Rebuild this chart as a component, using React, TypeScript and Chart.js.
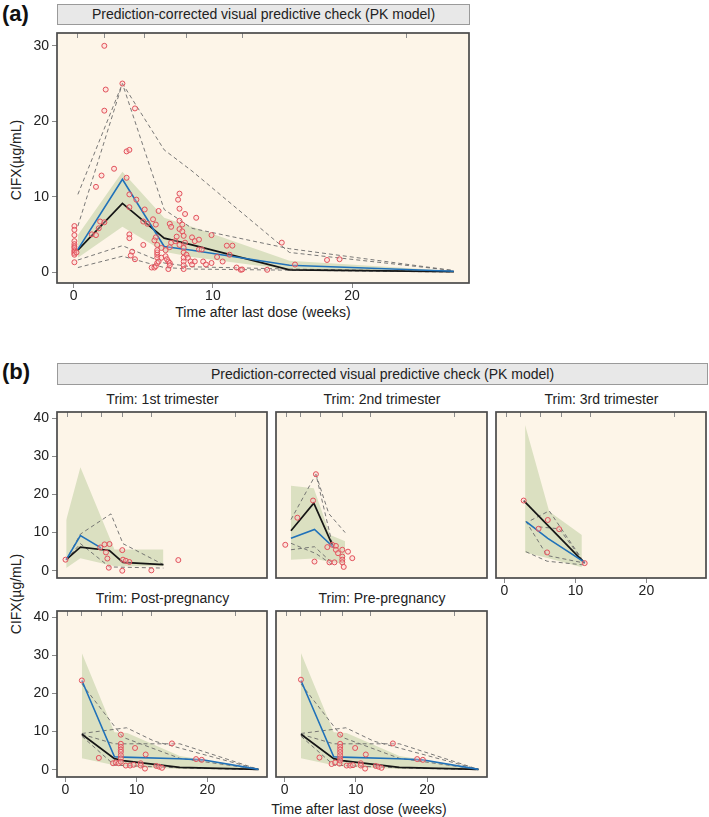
import React, { useEffect, useRef } from "react";
import { Chart, registerables } from "chart.js";
Chart.register(...registerables);

const FONT = "'Liberation Sans', Arial, Helvetica, sans-serif";
const BG = "#fdf5e8";
const BAND = "#dbe0c1";
const BLUE = "#2071b9";
const BLACK = "#151515";
const DASH = "#6a6a6a";
const PT = "#e2525c";
const TICKC = "#8a8a8a";
const FRAME = "#4a4a4a";
const TXT = "#222";

// ---- shared axes ----
const BIN_EDGES = [0.3, 2.2, 5.1, 8.1, 12.1, 23.9];
const X_TICKS = [0, 10, 20];
const Y_TICKS_A = [0, 10, 20, 30];
const Y_TICKS_B = [0, 10, 20, 30, 40];

// ---- panel (a) ----
const A_T = [0.3, 3.5, 6.5, 8.5, 15.5, 27.3];
const A_OBS_MED = [3.0, 12.3, 3.4, 2.9, 0.9, 0.1];
const A_SIM_MED = [2.9, 9.1, 4.5, 3.6, 0.3, 0.05];
const A_BAND_HI = [4.9, 13.3, 7.2, 6.0, 1.5, 0.15];
const A_BAND_LO = [1.9, 6.0, 2.7, 2.0, 0.3, 0.0];
const A_D1 = [10.3, 25.0, 16.2, 13.4, 2.6, 0.2];
const A_D2 = [6.1, 25.0, 8.3, 5.8, 3.1, 0.2];
const A_D3 = [1.6, 3.5, 1.2, 0.7, 0.4, 0.05];
const A_D4 = [0.6, 2.1, 0.6, 0.4, 0.25, 0.0];
const A_OBS_T = [
  0.05, 0.05, 0.05, 0.05, 0.05, 0.05, 0.05, 0.05, 0.05, 0.05, 0.05, 0.05, 0.2,
  2.2, 2.3, 2.2, 3.5, 4.4, 3.8, 4.0, 2.9, 2.0, 1.6, 3.8, 4.0, 4.5, 4.0, 5.1,
  1.9, 2.2, 1.8, 1.3, 1.6, 5.0, 5.3, 5.7, 6.1, 5.9, 4.0, 4.0, 5.0, 4.2, 4.1, 4.4, 5.9, 5.8, 6.0,
  5.6, 5.8, 5.9, 6.0, 6.0, 6.0, 6.0, 6.0, 6.1, 6.3, 6.6, 6.7, 6.8, 6.9, 6.8, 6.9, 6.3,
  7.6, 7.5, 7.6, 8.0, 8.8, 6.9, 7.0, 7.6, 7.8, 7.4, 7.6, 7.8, 7.9, 8.0, 7.9, 7.9, 7.9, 7.9, 7.9, 7.9,
  8.1, 8.2, 8.4, 8.5, 8.5, 8.7, 9.0, 9.0, 9.2, 8.7, 9.3, 9.5, 9.9, 9.9, 10.3, 10.7, 11.0, 11.4, 11.2,
  11.7, 12.0, 12.1, 13.9, 14.95, 15.9, 18.2, 19.1, 6.9, 7.0, 7.3, 6.6, 7.6,
];
const A_OBS_V = [
  6.1, 5.6, 4.9, 4.1, 3.7, 3.4, 3.2, 2.9, 2.7, 2.5, 2.3, 1.3, 2.6,
  30.0, 24.2, 21.4, 25.0, 21.7, 16.0, 16.2, 13.7, 12.8, 11.3, 12.5, 10.3, 9.6, 8.6, 8.3,
  6.7, 6.6, 5.8, 5.0, 4.9, 6.7, 6.4, 7.0, 8.1, 6.3, 5.0, 4.5, 3.6, 2.7, 2.2, 1.7, 4.6, 4.2, 3.6,
  0.6, 0.6, 0.8, 1.2, 1.9, 2.3, 2.6, 2.9, 1.4, 1.9, 2.1, 1.7, 1.4, 1.2, 0.4, 0.9, 3.2,
  10.4, 9.6, 8.4, 7.7, 7.2, 6.4, 6.0, 6.8, 6.3, 4.7, 5.7, 5.4, 4.8, 3.9, 3.2, 2.6, 1.9, 1.4, 0.9, 0.4,
  2.3, 1.9, 1.4, 1.0, 4.6, 4.1, 4.3, 3.0, 3.0, 1.4, 1.4, 1.0, 1.2, 4.9, 2.0, 1.4, 3.5, 3.5, 2.3,
  0.6, 0.3, 0.35, 0.3, 3.9, 1.0, 1.6, 1.7, 3.3, 3.9, 4.1, 2.9, 3.6,
];

// ---- panel b1: 1st trimester ----
const B1_BAND_T = [0.1, 2.1, 6.9, 13.8];
const B1_BAND_HI = [13.3, 27.1, 5.6, 5.6];
const B1_BAND_LO = [0.7, 3.3, 1.2, 1.2];
const B1_OBS_MED_T = [0.1, 2.1, 5.0];
const B1_OBS_MED = [2.9, 9.2, 6.0];
const B1_SIM_MED_T = [0.1, 2.1, 6.2, 8.1, 13.8];
const B1_SIM_MED = [2.9, 6.2, 5.3, 2.2, 1.6];
const B1_D1_T = [0.1, 2.1, 6.4, 8.1, 13.8];
const B1_D1 = [2.9, 9.6, 14.9, 7.1, 1.6];
const B1_D2_T = [0.1, 2.1, 6.2, 13.8];
const B1_D2 = [2.9, 7.1, 1.0, 0.7];
const B1_OBS_T = [0.0, 4.9, 5.5, 6.2, 5.7, 5.9, 6.1, 8.0, 8.1, 8.5, 9.0, 8.0, 12.1, 15.9];
const B1_OBS_V = [2.9, 6.1, 6.9, 7.0, 4.8, 3.2, 0.8, 5.4, 2.9, 2.6, 2.3, 0.0, 0.1, 2.8];

// ---- panel b2: 2nd trimester ----
const B2_BAND_T = [0.9, 4.1, 6.4, 8.5];
const B2_BAND_HI = [22.3, 21.6, 9.4, 7.7];
const B2_BAND_LO = [2.9, 3.2, 2.3, 1.8];
const B2_OBS_MED_T = [0.9, 4.2, 6.9];
const B2_OBS_MED = [8.5, 10.8, 6.1];
const B2_SIM_MED_T = [0.9, 4.1, 6.7];
const B2_SIM_MED = [10.5, 17.7, 6.8];
const B2_D1_T = [0.9, 4.4, 6.7];
const B2_D1 = [13.4, 25.3, 7.0];
const B2_D2_T = [4.4, 6.2, 8.5];
const B2_D2 = [25.3, 15.0, 10.0];
const B2_D3_T = [0.9, 4.4, 6.7];
const B2_D3 = [7.2, 4.5, 1.6];
const B2_D4_T = [0.9, 4.2, 6.7];
const B2_D4 = [5.5, 6.3, 2.0];
const B2_OBS_T = [0.1, 1.8, 4.4, 4.0, 6.7, 7.2, 6.0, 7.2, 7.5, 8.1, 8.9, 8.1, 8.1, 8.1, 9.5, 4.2, 6.3, 7.0, 8.3];
const B2_OBS_V = [6.8, 13.9, 25.3, 18.4, 6.8, 6.5, 6.2, 5.5, 4.6, 5.5, 5.0, 3.7, 2.9, 2.2, 3.3, 2.4, 2.2, 2.2, 1.0];

// ---- panel b3: 3rd trimester ----
const B3_BAND_T = [2.9, 6.3, 10.9];
const B3_BAND_HI = [38.2, 15.5, 9.4];
const B3_BAND_LO = [4.8, 3.2, 0.9];
const B3_OBS_MED_T = [3.05, 6.1, 11.3];
const B3_OBS_MED = [12.9, 8.5, 2.2];
const B3_SIM_MED_T = [2.7, 11.3];
const B3_SIM_MED = [18.4, 2.0];
const B3_D1_T = [3.7, 6.3, 11.3];
const B3_D1 = [13.2, 15.7, 2.0];
const B3_D2_T = [3.0, 6.0, 11.3];
const B3_D2 = [13.0, 4.0, 2.0];
const B3_D3_T = [4.8, 7.7, 11.3];
const B3_D3 = [11.5, 11.0, 2.0];
const B3_D4_T = [3.0, 6.0, 11.3];
const B3_D4 = [5.0, 2.5, 1.5];
const B3_OBS_T = [2.7, 6.1, 4.8, 7.7, 6.0, 11.3];
const B3_OBS_V = [18.4, 13.3, 11.0, 10.9, 4.8, 2.0];

// ---- panels b4 / b5: post- and pre-pregnancy ----
const B4_BAND_T = [2.3, 6.9, 8.7, 16.1, 27.2];
const B4_BAND_HI = [30.6, 9.8, 9.6, 3.6, 0.3];
const B4_BAND_LO = [3.0, 1.2, 0.8, 0.2, 0.0];
const B4_OBS_MED_T = [2.3, 6.9, 8.1, 16.0, 19.3, 27.2];
const B4_OBS_MED = [23.4, 3.4, 3.3, 2.9, 2.6, 0.1];
const B4_SIM_MED_T = [2.3, 6.9, 8.1, 16.1, 27.2];
const B4_SIM_MED = [9.3, 2.9, 2.4, 0.6, 0.1];
const B4_D1_T = [2.3, 8.6, 12.5, 27.2];
const B4_D1 = [9.5, 11.0, 7.5, 0.1];
const B4_D2_T = [2.3, 6.9, 16.1, 27.2];
const B4_D2 = [9.3, 6.8, 6.8, 0.1];
const B4_D3_T = [2.3, 8.1, 16.1, 27.2];
const B4_D3 = [22.5, 8.5, 3.0, 0.1];
const B4_D4_T = [2.3, 6.9, 16.1, 27.2];
const B4_D4 = [8.8, 1.2, 0.5, 0.0];
const B4_OBS_T = [2.3, 4.7, 6.7, 7.1, 7.5, 7.8, 7.8, 7.8, 7.8, 7.8, 7.8, 7.8, 7.8, 8.5, 9.1, 9.6, 9.8, 10.6, 10.6, 11.2, 11.3, 12.8, 13.2, 13.6, 15.0, 18.4, 19.2];
const B4_OBS_V = [23.4, 3.1, 1.7, 1.9, 1.7, 9.2, 6.8, 6.0, 5.3, 4.7, 3.8, 3.0, 2.1, 1.1, 1.1, 1.3, 5.7, 1.7, 1.1, 0.3, 4.0, 1.0, 0.8, 0.5, 6.9, 2.8, 2.6];

const B5_BAND_T = B4_BAND_T, B5_BAND_HI = B4_BAND_HI, B5_BAND_LO = B4_BAND_LO;
const B5_OBS_MED_T = B4_OBS_MED_T, B5_OBS_MED = B4_OBS_MED;
const B5_SIM_MED_T = B4_SIM_MED_T, B5_SIM_MED = B4_SIM_MED;
const B5_OBS_T = [2.3, 4.9, 6.6, 7.1, 7.7, 7.8, 7.8, 7.8, 7.8, 7.8, 7.8, 7.8, 7.8, 8.7, 9.2, 9.6, 9.9, 10.7, 10.7, 11.3, 11.4, 12.8, 13.2, 13.6, 15.2, 18.6, 19.4];
const B5_OBS_V = [23.6, 3.2, 1.5, 1.9, 1.6, 9.2, 6.8, 6.0, 5.3, 4.6, 3.8, 3.0, 2.4, 1.1, 1.1, 1.2, 5.7, 1.7, 1.1, 0.3, 4.0, 1.0, 0.8, 0.5, 6.9, 2.8, 2.6];

const pts = (t: number[], v: number[]) => t.map((x, i) => ({ x, y: v[i] }));

type Series = { t: number[]; v: number[] };
interface PanelData {
  band: { t: number[]; hi: number[]; lo: number[] };
  obsMed: Series;
  simMed: Series;
  dashed: Series[];
  obs: Series;
}
interface PanelSpec {
  key: string;
  left: number; top: number; w: number; h: number;
  yMin: number; yMax: number; yTicks: number[];
  showY: boolean; showX: boolean; showXTicks: boolean;
  data: PanelData;
}

const L = 50, T = 12, R = 4, B = 30;
const XMIN = -1.2, XMAX = 28.4;

const framePlugin = {
  id: "frame",
  beforeDraw(chart: any) {
    const { ctx, chartArea: a } = chart;
    ctx.save();
    ctx.fillStyle = BG;
    ctx.fillRect(a.left, a.top, a.right - a.left, a.bottom - a.top);
    ctx.restore();
  },
  afterDraw(chart: any) {
    const { ctx, chartArea: a } = chart;
    ctx.save();
    ctx.strokeStyle = FRAME;
    ctx.lineWidth = 1.7;
    ctx.strokeRect(a.left, a.top, a.right - a.left, a.bottom - a.top);
    ctx.restore();
  },
};

function buildConfig(s: PanelSpec): any {
  const d = s.data;
  const datasets: any[] = [
    { data: pts(d.band.t, d.band.hi), showLine: true, borderWidth: 0, borderColor: "rgba(0,0,0,0)", pointRadius: 0, fill: "+1", backgroundColor: BAND, order: 10 },
    { data: pts(d.band.t, d.band.lo), showLine: true, borderWidth: 0, borderColor: "rgba(0,0,0,0)", pointRadius: 0, fill: false, order: 11 },
  ];
  d.dashed.forEach((ln) => {
    datasets.push({ data: pts(ln.t, ln.v), showLine: true, borderColor: DASH, borderWidth: 0.9, borderDash: [4, 3], pointRadius: 0, fill: false, order: 5 });
  });
  datasets.push({ data: pts(d.simMed.t, d.simMed.v), showLine: true, borderColor: BLACK, borderWidth: 1.7, pointRadius: 0, fill: false, order: 3 });
  datasets.push({ data: pts(d.obsMed.t, d.obsMed.v), showLine: true, borderColor: BLUE, borderWidth: 1.6, pointRadius: 0, fill: false, order: 2 });
  datasets.push({ data: pts(d.obs.t, d.obs.v), showLine: false, pointRadius: 2.5, pointBorderWidth: 1, pointBorderColor: PT, pointBackgroundColor: "rgba(255,200,200,0.35)", borderColor: PT, order: 1 });

  const tickFont = { family: FONT, size: 14 };
  return {
    type: "scatter",
    data: { datasets },
    options: {
      animation: false,
      responsive: false,
      events: [],
      layout: { padding: { left: 0, right: R, top: 0, bottom: 0 } },
      plugins: { legend: { display: false }, tooltip: { enabled: false } },
      scales: {
        x: {
          type: "linear", axis: "x", position: "bottom", min: XMIN, max: XMAX,
          afterBuildTicks: (sc: any) => { sc.ticks = X_TICKS.map((v) => ({ value: v })); },
          afterFit: (sc: any) => { sc.height = B; },
          grid: { display: s.showXTicks, drawOnChartArea: false, drawTicks: true, tickLength: 5, color: TICKC, lineWidth: 1 },
          border: { display: false },
          ticks: { display: s.showX, font: tickFont, color: TXT, padding: 0, maxRotation: 0, autoSkip: false },
        },
        x2: {
          type: "linear", axis: "x", position: "top", min: XMIN, max: XMAX,
          afterBuildTicks: (sc: any) => { sc.ticks = BIN_EDGES.map((v) => ({ value: v })); },
          afterFit: (sc: any) => { sc.height = T; },
          grid: { display: true, drawOnChartArea: false, drawTicks: true, tickLength: -5, color: "#8c8c8c", lineWidth: 1 },
          border: { display: false },
          ticks: { display: false },
        },
        y: {
          type: "linear", axis: "y", position: "left", min: s.yMin, max: s.yMax,
          afterBuildTicks: (sc: any) => { sc.ticks = s.yTicks.map((v) => ({ value: v })); },
          afterFit: (sc: any) => { sc.width = L; },
          grid: { display: s.showY, drawOnChartArea: false, drawTicks: true, tickLength: 5, color: TICKC, lineWidth: 1 },
          border: { display: false },
          ticks: { display: s.showY, font: tickFont, color: TXT, padding: 3, autoSkip: false },
        },
      },
    },
    plugins: [framePlugin],
  };
}

function Panel({ spec }: { spec: PanelSpec }) {
  const ref = useRef<HTMLCanvasElement | null>(null);
  const W = spec.w + L + R;
  const H = spec.h + T + B;
  useEffect(() => {
    if (!ref.current) return;
    const chart = new Chart(ref.current, buildConfig(spec));
    return () => chart.destroy();
  }, []);
  return (
    <canvas
      ref={ref}
      width={W}
      height={H}
      style={{ position: "absolute", left: spec.left - L, top: spec.top - T, width: W, height: H }}
    />
  );
}

const PANEL_A: PanelData = {
  band: { t: A_T, hi: A_BAND_HI, lo: A_BAND_LO },
  obsMed: { t: A_T, v: A_OBS_MED },
  simMed: { t: A_T, v: A_SIM_MED },
  dashed: [{ t: A_T, v: A_D1 }, { t: A_T, v: A_D2 }, { t: A_T, v: A_D3 }, { t: A_T, v: A_D4 }],
  obs: { t: A_OBS_T, v: A_OBS_V },
};
const PANEL_B1: PanelData = {
  band: { t: B1_BAND_T, hi: B1_BAND_HI, lo: B1_BAND_LO },
  obsMed: { t: B1_OBS_MED_T, v: B1_OBS_MED },
  simMed: { t: B1_SIM_MED_T, v: B1_SIM_MED },
  dashed: [{ t: B1_D1_T, v: B1_D1 }, { t: B1_D2_T, v: B1_D2 }],
  obs: { t: B1_OBS_T, v: B1_OBS_V },
};
const PANEL_B2: PanelData = {
  band: { t: B2_BAND_T, hi: B2_BAND_HI, lo: B2_BAND_LO },
  obsMed: { t: B2_OBS_MED_T, v: B2_OBS_MED },
  simMed: { t: B2_SIM_MED_T, v: B2_SIM_MED },
  dashed: [{ t: B2_D1_T, v: B2_D1 }, { t: B2_D2_T, v: B2_D2 }, { t: B2_D3_T, v: B2_D3 }, { t: B2_D4_T, v: B2_D4 }],
  obs: { t: B2_OBS_T, v: B2_OBS_V },
};
const PANEL_B3: PanelData = {
  band: { t: B3_BAND_T, hi: B3_BAND_HI, lo: B3_BAND_LO },
  obsMed: { t: B3_OBS_MED_T, v: B3_OBS_MED },
  simMed: { t: B3_SIM_MED_T, v: B3_SIM_MED },
  dashed: [{ t: B3_D1_T, v: B3_D1 }, { t: B3_D2_T, v: B3_D2 }, { t: B3_D3_T, v: B3_D3 }, { t: B3_D4_T, v: B3_D4 }],
  obs: { t: B3_OBS_T, v: B3_OBS_V },
};
const PANEL_B4: PanelData = {
  band: { t: B4_BAND_T, hi: B4_BAND_HI, lo: B4_BAND_LO },
  obsMed: { t: B4_OBS_MED_T, v: B4_OBS_MED },
  simMed: { t: B4_SIM_MED_T, v: B4_SIM_MED },
  dashed: [{ t: B4_D1_T, v: B4_D1 }, { t: B4_D2_T, v: B4_D2 }, { t: B4_D3_T, v: B4_D3 }, { t: B4_D4_T, v: B4_D4 }],
  obs: { t: B4_OBS_T, v: B4_OBS_V },
};
const PANEL_B5: PanelData = {
  band: { t: B5_BAND_T, hi: B5_BAND_HI, lo: B5_BAND_LO },
  obsMed: { t: B5_OBS_MED_T, v: B5_OBS_MED },
  simMed: { t: B5_SIM_MED_T, v: B5_SIM_MED },
  dashed: [{ t: B4_D1_T, v: B4_D1 }, { t: B4_D2_T, v: B4_D2 }, { t: B4_D3_T, v: B4_D3 }, { t: B4_D4_T, v: B4_D4 }],
  obs: { t: B5_OBS_T, v: B5_OBS_V },
};

const YB_MIN = -1.9, YB_MAX = 41.6;
const SPECS: PanelSpec[] = [
  { key: "a", left: 57, top: 33, w: 413, h: 250, yMin: -1.45, yMax: 31.7, yTicks: Y_TICKS_A, showY: true, showX: true, showXTicks: true, data: PANEL_A },
  { key: "b1", left: 57, top: 412, w: 211, h: 166, yMin: YB_MIN, yMax: YB_MAX, yTicks: Y_TICKS_B, showY: true, showX: false, showXTicks: false, data: PANEL_B1 },
  { key: "b2", left: 276, top: 412, w: 212, h: 166, yMin: YB_MIN, yMax: YB_MAX, yTicks: Y_TICKS_B, showY: false, showX: false, showXTicks: false, data: PANEL_B2 },
  { key: "b3", left: 496, top: 412, w: 211, h: 166, yMin: YB_MIN, yMax: YB_MAX, yTicks: Y_TICKS_B, showY: false, showX: true, showXTicks: true, data: PANEL_B3 },
  { key: "b4", left: 57, top: 611, w: 211, h: 166, yMin: YB_MIN, yMax: YB_MAX, yTicks: Y_TICKS_B, showY: true, showX: true, showXTicks: true, data: PANEL_B4 },
  { key: "b5", left: 276, top: 611, w: 212, h: 166, yMin: YB_MIN, yMax: YB_MAX, yTicks: Y_TICKS_B, showY: false, showX: true, showXTicks: true, data: PANEL_B5 },
];

const TITLES = [
  { text: "Trim: 1st trimester", cx: 162.5, cy: 399 },
  { text: "Trim: 2nd trimester", cx: 382, cy: 399 },
  { text: "Trim: 3rd trimester", cx: 601.5, cy: 399 },
  { text: "Trim: Post-pregnancy", cx: 162.5, cy: 598 },
  { text: "Trim: Pre-pregnancy", cx: 382, cy: 598 },
];

const centered = (cx: number, cy: number, extra: React.CSSProperties = {}): React.CSSProperties => ({
  position: "absolute",
  left: cx,
  top: cy,
  transform: "translate(-50%, -50%)",
  whiteSpace: "nowrap",
  fontSize: 14,
  color: TXT,
  lineHeight: "17px",
  ...extra,
});

const strip = (left: number, top: number, width: number, height: number): React.CSSProperties => ({
  position: "absolute",
  left,
  top,
  width,
  height,
  boxSizing: "border-box",
  border: "1px solid #9a9a9a",
  background: "#e8e8e8",
  fontSize: 14,
  color: TXT,
  textAlign: "center",
  lineHeight: `${height - 2}px`,
  whiteSpace: "nowrap",
});

export default function App() {
  const title = "Prediction-corrected visual predictive check (PK model)";
  const yTitle = "CIFX(\u00b5g/mL)";
  const xTitle = "Time after last dose (weeks)";
  return (
    <div style={{ position: "absolute", left: 0, top: 0, width: 709, height: 817, background: "#fff", fontFamily: FONT, overflow: "hidden" }}>
      <div style={{ position: "absolute", left: 2, top: 1, fontSize: 22, fontWeight: "bold", lineHeight: "26px", color: "#111" }}>(a)</div>
      <div style={strip(57, 4, 413, 21)}>{title}</div>
      <div style={{ position: "absolute", left: 2, top: 359, fontSize: 22, fontWeight: "bold", lineHeight: "26px", color: "#111" }}>(b)</div>
      <div style={strip(57, 363, 651, 22)}>{title}</div>
      {TITLES.map((t) => (
        <div key={t.text} style={centered(t.cx, t.cy)}>{t.text}</div>
      ))}
      <div style={centered(16, 160, { transform: "translate(-50%, -50%) rotate(-90deg)" })}>{yTitle}</div>
      <div style={centered(16, 594, { transform: "translate(-50%, -50%) rotate(-90deg)" })}>{yTitle}</div>
      <div style={centered(263, 312)}>{xTitle}</div>
      <div style={centered(359, 809)}>{xTitle}</div>
      {SPECS.map((s) => (
        <Panel key={s.key} spec={s} />
      ))}
    </div>
  );
}
